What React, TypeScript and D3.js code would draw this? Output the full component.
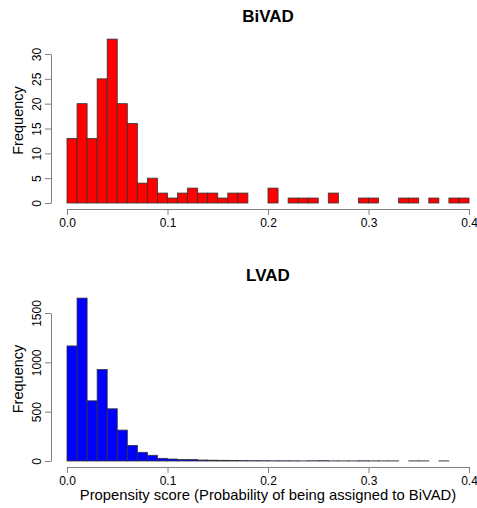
import React, { useEffect, useRef } from "react";
import * as d3 from "d3";

// histogram counts, bins of width 0.01 from 0 to 0.4
const binWidth = 0.01;
const bivadCounts = [
  13, 20, 13, 25, 33, 20, 16, 4, 5, 2,
  1, 2, 3, 2, 2, 1, 2, 2, 0, 0,
  3, 0, 1, 1, 1, 0, 2, 0, 0, 1,
  1, 0, 0, 1, 1, 0, 1, 0, 1, 1,
];
const lvadCounts = [
  1166, 1651, 610, 927, 529, 313, 158, 88, 58, 27,
  20, 15, 15, 10, 8, 7, 6, 4, 3, 3,
  2, 2, 2, 1, 2, 3, 1, 1, 1, 2,
  1, 1, 1, 0, 1, 1, 0, 1, 0, 0,
];
const xTicks = [0, 0.1, 0.2, 0.3, 0.4];
const bivadYTicks = [0, 5, 10, 15, 20, 25, 30];
const lvadYTicks = [0, 500, 1000, 1500];

const FONT = "'Liberation Sans', Arial, sans-serif";
const AXIS = "#808080";

const App = () => {
  const ref = useRef<SVGSVGElement>(null);

  useEffect(() => {
    const svg = d3.select(ref.current);
    svg.selectAll("*").remove();

    const x = d3.scaleLinear().domain([0, 0.4]).range([67, 469]);

    const panel = (
      title: string,
      counts: number[],
      fill: string,
      yDomain: number,
      yTicks: number[],
      yBottom: number,
      yTop: number,
      titleY: number,
      drawZero: boolean
    ) => {
      const y = d3.scaleLinear().domain([0, yDomain]).range([yBottom, yTop]);
      const g = svg.append("g");

      const bins = counts.map((c, i) => ({ x0: i * binWidth, x1: (i + 1) * binWidth, c }));

      g.selectAll("rect")
        .data(bins.filter((b) => drawZero || b.c > 0))
        .join("rect")
        .attr("x", (d) => x(d.x0))
        .attr("width", (d) => x(d.x1) - x(d.x0))
        .attr("y", (d) => y(d.c))
        .attr("height", (d) => y(0) - y(d.c))
        .attr("fill", fill)
        .attr("stroke", "#333")
        .attr("stroke-width", 0.8);

      // x axis
      const xAxisY = yBottom + 6;
      g.append("g")
        .attr("transform", `translate(0,${xAxisY})`)
        .call(d3.axisBottom(x).tickValues(xTicks).tickFormat(d3.format(".1f")).tickSize(6).tickSizeOuter(0))
        .call((a) => a.select(".domain").attr("stroke", AXIS))
        .call((a) => a.selectAll(".tick line").attr("stroke", AXIS))
        .call((a) =>
          a.selectAll(".tick text").attr("fill", "#000").attr("font-size", 12).attr("font-family", FONT)
        );

      // y axis
      g.append("g")
        .attr("transform", "translate(51,0)")
        .call(d3.axisLeft(y).tickValues(yTicks).tickFormat(d3.format("d")).tickSize(6).tickSizeOuter(0))
        .call((a) => a.select(".domain").attr("stroke", AXIS))
        .call((a) => a.selectAll(".tick line").attr("stroke", AXIS))
        .call((a) =>
          a.selectAll(".tick text")
            .attr("fill", "#000")
            .attr("font-size", 12)
            .attr("font-family", FONT)
            .attr("x", 0)
            .attr("dy", 0)
            .attr("text-anchor", "middle")
            .attr("transform", "translate(-10,0) rotate(-90)")
        );

      g.append("text")
        .attr("transform", `translate(23,${(yBottom + yTop) / 2 - 8}) rotate(-90)`)
        .attr("text-anchor", "middle")
        .attr("font-size", 14.5)
        .attr("font-family", FONT)
        .text("Frequency");

      g.append("text")
        .attr("x", 268)
        .attr("y", titleY)
        .attr("text-anchor", "middle")
        .attr("font-size", 17)
        .attr("font-weight", "bold")
        .attr("font-family", FONT)
        .text(title);
    };

    panel("BiVAD", bivadCounts, "#ff0000", 30, bivadYTicks, 203, 54, 22, false);
    panel("LVAD", lvadCounts, "#0000ff", 1500, lvadYTicks, 461, 313, 281, true);

    svg.append("text")
      .attr("x", 268)
      .attr("y", 500)
      .attr("text-anchor", "middle")
      .attr("font-size", 14.8)
      .attr("font-family", FONT)
      .text("Propensity score (Probability of being assigned to BiVAD)");
  }, []);

  return <svg ref={ref} width={477} height={508} style={{ position: "absolute", left: 0, top: 0, background: "#fff" }} />;
};

export default App;
